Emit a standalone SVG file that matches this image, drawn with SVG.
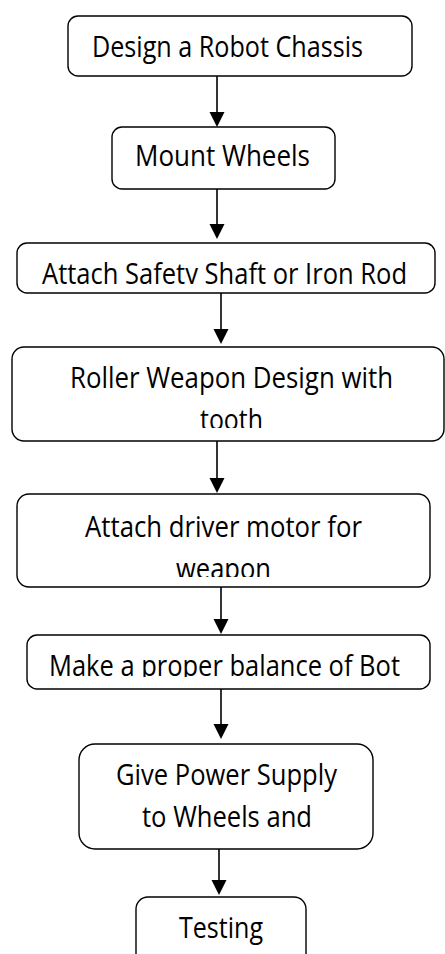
<svg xmlns="http://www.w3.org/2000/svg" width="445" height="954" viewBox="0 0 445 954">
<style>
.box{fill:#fff;stroke:#000;stroke-width:1.4}
.t{font-family:"Open Sans","Noto Sans","Liberation Sans",sans-serif;font-size:29px;fill:#000;text-anchor:middle}
.ln{stroke:#000;stroke-width:1.6;fill:none}
.hd{fill:#000}
</style>
<defs>
<clipPath id="c3"><rect x="0" y="240" width="445" height="44"/></clipPath>
<clipPath id="c4"><rect x="0" y="340" width="445" height="88"/></clipPath>
<clipPath id="c5"><rect x="0" y="490" width="445" height="87"/></clipPath>
<clipPath id="c6"><rect x="0" y="630" width="445" height="47"/></clipPath>
</defs>
<rect width="445" height="954" fill="#fff"/>
<g id="connectors">
<line class="ln" x1="217" y1="76" x2="217" y2="113"/><polygon class="hd" points="209.5,112 224.5,112 217,127"/>
<line class="ln" x1="217" y1="189" x2="217" y2="225"/><polygon class="hd" points="209.5,224 224.5,224 217,239"/>
<line class="ln" x1="221" y1="293" x2="221" y2="330"/><polygon class="hd" points="213.5,329 228.5,329 221,344"/>
<line class="ln" x1="217" y1="441" x2="217" y2="479"/><polygon class="hd" points="209.5,478 224.5,478 217,493"/>
<line class="ln" x1="221" y1="583" x2="221" y2="620"/><polygon class="hd" points="213.5,619 228.5,619 221,634"/>
<line class="ln" x1="221" y1="689" x2="221" y2="725"/><polygon class="hd" points="213.5,724 228.5,724 221,739"/>
<line class="ln" x1="219" y1="844" x2="219" y2="881"/><polygon class="hd" points="211.5,880 226.5,880 219,895"/>
</g>
<g id="n1"><rect class="box" x="68" y="16" width="344" height="60" rx="10"/><text class="t" x="227.5" y="57" textLength="271" lengthAdjust="spacingAndGlyphs">Design a Robot Chassis</text></g>
<g id="n2"><rect class="box" x="112" y="127" width="223" height="62" rx="10"/><text class="t" x="222.5" y="166" textLength="175" lengthAdjust="spacingAndGlyphs">Mount Wheels</text></g>
<g id="n3"><rect class="box" x="17" y="243" width="418" height="50" rx="10"/><text class="t" x="224.5" y="284" textLength="365" lengthAdjust="spacingAndGlyphs" clip-path="url(#c3)">Attach Safety Shaft or Iron Rod</text></g>
<g id="n4"><rect class="box" x="12" y="347" width="432" height="94" rx="12"/><g clip-path="url(#c4)"><text class="t" x="231.5" y="388" textLength="323" lengthAdjust="spacingAndGlyphs">Roller Weapon Design with</text><text class="t" x="231.5" y="430" textLength="63" lengthAdjust="spacingAndGlyphs">tooth</text></g></g>
<g id="n5"><rect class="box" x="17" y="494" width="413" height="93" rx="12"/><g clip-path="url(#c5)"><text class="t" x="223.5" y="537" textLength="277" lengthAdjust="spacingAndGlyphs">Attach driver motor for</text><text class="t" x="223.5" y="579" textLength="95" lengthAdjust="spacingAndGlyphs">weapon</text></g></g>
<g id="n6"><rect class="box" x="27" y="635" width="403" height="54" rx="10"/><text class="t" x="224.5" y="676" textLength="351" lengthAdjust="spacingAndGlyphs" clip-path="url(#c6)">Make a proper balance of Bot</text></g>
<g id="n7"><rect class="box" x="79" y="744" width="294" height="105" rx="16"/><text class="t" x="226.5" y="785" textLength="221" lengthAdjust="spacingAndGlyphs">Give Power Supply</text><text class="t" x="227" y="827" textLength="170" lengthAdjust="spacingAndGlyphs">to Wheels and</text></g>
<g id="n8"><rect class="box" x="136" y="897" width="170" height="80" rx="12"/><text class="t" x="221" y="938" textLength="84" lengthAdjust="spacingAndGlyphs">Testing</text></g>
</svg>
